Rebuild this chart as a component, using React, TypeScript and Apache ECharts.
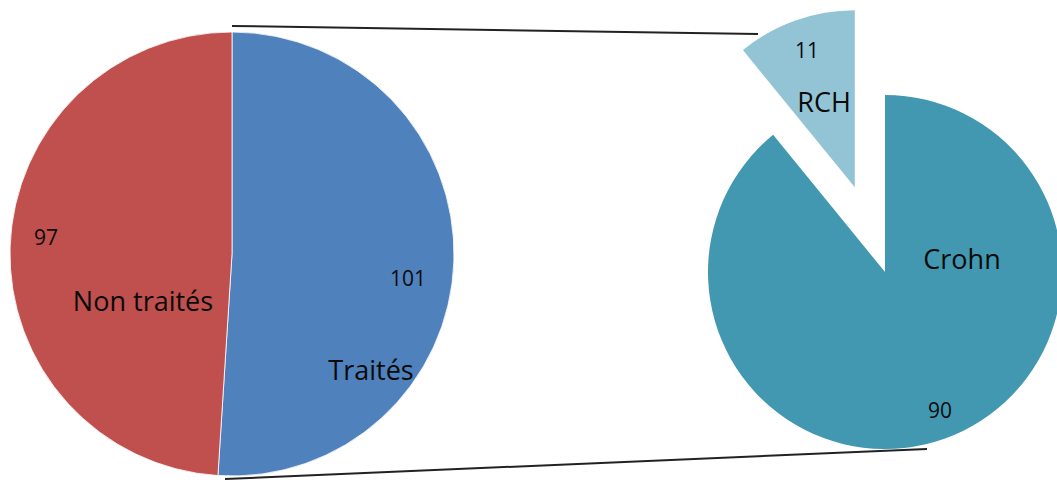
import React, { useEffect, useRef } from "react";
import * as echarts from "echarts";

const mainCategories = ["Traités", "Non traités"];
const mainValues = [101, 97];
const subCategories = ["Crohn", "RCH"];
const subValues = [90, 11];

const mainColors = ["#4F81BD", "#C0504D"];
const subColors = ["#4298B0", "#93C4D6"];

// label anchor positions (pixels)
const mainNamePos = [[371, 369], [143, 300]];
const mainValuePos = [[408, 278], [46, 237]];
const subNamePos = [[962, 258], [820, 98]];
const subValuePos = [[940, 410], [807, 50]];

const FONT = "'Open Sans', 'DejaVu Sans', sans-serif";

export default function App() {
  const ref = useRef<HTMLDivElement>(null);
  useEffect(() => {
    if (!ref.current) return;
    const chart = echarts.init(ref.current, undefined, { renderer: "svg" });

    const layoutFrom = (pos: number[][]) => (p: any) => ({
      x: pos[p.dataIndex][0],
      y: pos[p.dataIndex][1],
      align: "center",
      verticalAlign: "middle",
    });

    const mainData = mainCategories.map((c, i) => ({
      name: c,
      value: mainValues[i],
      itemStyle: { color: mainColors[i] },
    }));
    const subData = subCategories.map((c, i) => ({
      name: c,
      value: subValues[i],
      selected: c === "RCH",
      itemStyle: { color: subColors[i] },
    }));

    const base = {
      type: "pie",
      clockwise: true,
      startAngle: 90,
      avoidLabelOverlap: false,
      labelLine: { show: false },
      emphasis: { disabled: true },
      silent: true,
    };

    const nameLabel = {
      show: true,
      position: "inside",
      formatter: "{b}",
      fontFamily: FONT,
      fontSize: 27,
      color: "#0a0a0a",
    };
    const valueLabel = {
      show: true,
      position: "inside",
      formatter: "{c}",
      fontFamily: FONT,
      fontSize: 21,
      color: "#0a0a0a",
    };

    const option: any = {
      animation: false,
      backgroundColor: "#ffffff",
      series: [
        {
          ...base,
          center: [232, 254],
          radius: 222,
          data: mainData,
          itemStyle: { borderColor: "#ffffff", borderWidth: 0.8 },
          label: nameLabel,
          labelLayout: layoutFrom(mainNamePos),
        },
        {
          ...base,
          center: [232, 254],
          radius: 222,
          data: mainData.map((d) => ({ ...d, itemStyle: { color: "rgba(0,0,0,0)" } })),
          label: valueLabel,
          labelLayout: layoutFrom(mainValuePos),
        },
        {
          ...base,
          center: [885, 272],
          radius: 177,
          selectedMode: "single",
          selectedOffset: 90,
          data: subData,
          label: nameLabel,
          labelLayout: layoutFrom(subNamePos),
        },
        {
          ...base,
          center: [885, 272],
          radius: 177,
          data: subData.map((d) => ({ ...d, selected: false, itemStyle: { color: "rgba(0,0,0,0)" } })),
          label: valueLabel,
          labelLayout: layoutFrom(subValuePos),
        },
      ],
      graphic: [
        {
          type: "line",
          shape: { x1: 232, y1: 26, x2: 758, y2: 34 },
          style: { stroke: "#222", lineWidth: 2 },
          z: 10,
        },
        {
          type: "line",
          shape: { x1: 225, y1: 479, x2: 927, y2: 449 },
          style: { stroke: "#222", lineWidth: 2 },
          z: 10,
        },
      ],
    };
    chart.setOption(option);
    return () => chart.dispose();
  }, []);

  return (
    <div
      ref={ref}
      style={{ position: "fixed", left: 0, top: 0, width: 1057, height: 480 }}
    />
  );
}
